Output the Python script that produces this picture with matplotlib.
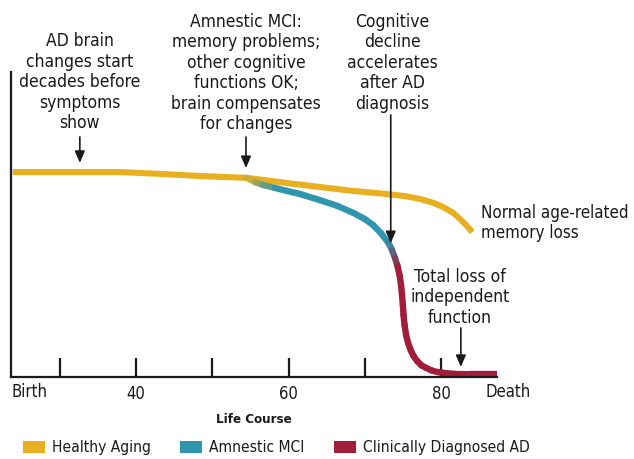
import matplotlib
matplotlib.use("Agg")
import matplotlib.pyplot as plt
from matplotlib.collections import LineCollection
from matplotlib.colors import to_rgb
from matplotlib.patches import Patch
import numpy as np

plt.rcParams["font.family"] = ["DejaVu Sans"]
plt.rcParams["font.stretch"] = "condensed"

# curves: age vs. cognitive function (0 = baseline, 100 = axis top)
healthy_age = [23.8, 32.6, 37.9, 43.1, 48.4, 54.5, 59.8, 64.1, 68.5, 72.9, 75.3, 77.2, 79.0,
               80.3, 81.6, 82.5, 83.3, 84.1]
healthy_val = [67.2, 67.2, 67.2, 66.6, 65.9, 65.3, 63.6, 62.3, 61.0, 60.0, 59.3, 58.4, 57.1,
               55.7, 53.8, 51.8, 49.8, 47.5]

mci_age = [54.5, 55.6, 56.6, 58.2, 59.8, 61.5, 64.1, 66.4, 68.5, 70.0, 71.1, 72.1, 73.0]
mci_val = [65.3, 63.9, 63.0, 62.0, 61.0, 60.0, 58.0, 56.1, 53.8, 51.8, 49.8, 47.2, 44.3]

ad_age = [73.04, 73.57, 73.96, 74.29, 74.55, 74.75, 74.88, 74.99, 75.08, 75.21, 75.41, 75.67,
          76.00, 76.39, 76.85, 77.38, 78.03, 78.82, 79.61, 80.52, 81.84, 83.81, 87.35]
ad_val = [44.3, 41.6, 39.0, 36.4, 33.4, 30.2, 26.9, 23.6, 20.3, 17.1, 13.8, 11.2,
          8.9, 6.9, 5.3, 3.9, 3.0, 2.1, 1.6, 1.3, 1.0, 0.9, 0.9]

tick_ages = [30, 40, 50, 60, 70, 80]
tick_labels = ["", "40", "", "60", "", "80"]

legend_labels = ["Healthy Aging", "Amnestic MCI", "Clinically Diagnosed AD"]

YELLOW = "#E8B020"
TEAL = "#2F96AD"
RED = "#A11E3A"
INK = "#1A1A1A"


def blend(c1, c2, t):
    a, b = np.array(to_rgb(c1)), np.array(to_rgb(c2))
    return tuple(a + (b - a) * t)


def faded_line(ax, xs, ys, start_color, color, lw, n_fade):
    pts = np.column_stack([xs, ys])
    segs = np.stack([pts[:-1], pts[1:]], axis=1)
    colors = [color] * len(segs)
    for i in range(n_fade):
        colors[i] = blend(start_color, color, (i + 0.5) / (n_fade + 0.5))
    lc = LineCollection(segs, colors=colors, linewidths=lw, capstyle="round", joinstyle="round")
    ax.add_collection(lc)


fig = plt.figure(figsize=(6.34, 4.59), dpi=100)
ax = fig.add_axes([0.0174, 0.1786, 0.7666, 0.6645])

ax.plot(healthy_age, healthy_val, color=YELLOW, lw=4.4, solid_capstyle="butt", solid_joinstyle="round")
faded_line(ax, mci_age, mci_val, YELLOW, TEAL, 4.6, 3)
faded_line(ax, ad_age, ad_val, TEAL, RED, 4.6, 3)

ax.set_xlim(23.57, 87.35)
ax.set_ylim(0, 100)
for side in ["top", "right"]:
    ax.spines[side].set_visible(False)
for side in ["left", "bottom"]:
    ax.spines[side].set_linewidth(1.6)
    ax.spines[side].set_color(INK)

ax.set_yticks([])
ax.set_xticks(tick_ages)
ax.set_xticklabels(tick_labels, fontsize=12, color=INK)
ax.tick_params(axis="x", direction="in", length=13.5, width=1.6, color=INK, pad=6)

ax.text(23.57, -4.9, "Birth", ha="left", va="center", fontsize=12, color=INK, clip_on=False)
ax.text(88.8, -4.9, "Death", ha="center", va="center", fontsize=12, color=INK, clip_on=False)
ax.set_xlabel("Life Course", fontsize=9.5, fontweight="bold", color=INK, labelpad=7)

txt = dict(fontsize=12.5, color=INK, ha="center", va="top", linespacing=1.18)
ax.text(32.6, 113, "AD brain\nchanges start\ndecades before\nsymptoms\nshow", **txt)
ax.text(54.4, 119.5, "Amnestic MCI:\nmemory problems;\nother cognitive\nfunctions OK;\nbrain compensates\nfor changes", **txt)
ax.text(73.6, 119.5, "Cognitive\ndecline\naccelerates\nafter AD\ndiagnosis", **txt)
ax.text(82.5, 26.2, "Total loss of\nindependent\nfunction", fontsize=12.5, color=INK, ha="center",
        va="center", linespacing=1.18)
ax.text(85.25, 50.5, "Normal age-related\nmemory loss", fontsize=12.2, color=INK, ha="left",
        va="center", linespacing=1.18, clip_on=False)

arrow = dict(arrowstyle="-|>,head_length=0.7,head_width=0.3", color=INK, lw=1.2, shrinkA=0, shrinkB=0)
for x, y0, y1 in [(32.6, 78.7, 70.2), (54.4, 78.7, 68.5), (73.4, 85.9, 43.9), (82.6, 16.1, 3.3)]:
    ax.annotate("", xy=(x, y1), xytext=(x, y0), arrowprops=arrow, annotation_clip=False)

handles = [Patch(facecolor=c, edgecolor="none") for c in [YELLOW, TEAL, RED]]
fig.legend(handles, legend_labels, loc="center", bbox_to_anchor=(0.436, 0.024), ncol=3,
           frameon=False, fontsize=11.2, handlelength=1.4, handleheight=0.75, handletextpad=0.45,
           columnspacing=1.9, labelcolor=INK)

fig.savefig("out.png", dpi=100)
